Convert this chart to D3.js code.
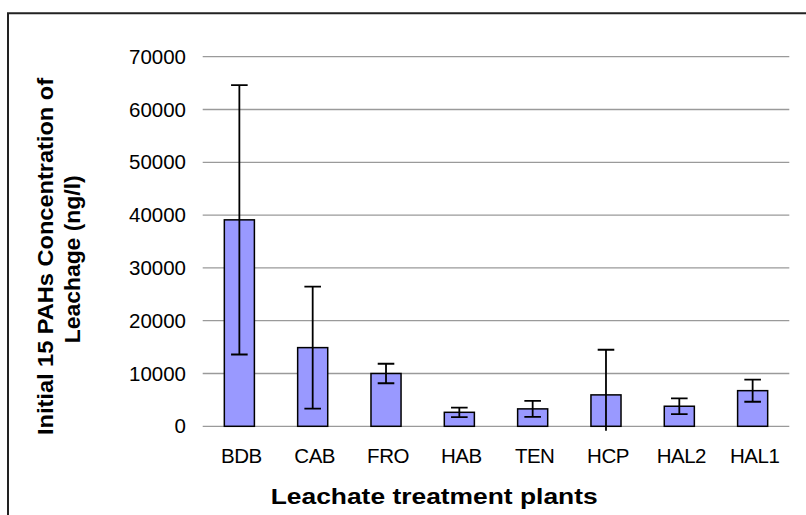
<!DOCTYPE html>
<html>
<head>
<meta charset="utf-8">
<script src="https://cdn.jsdelivr.net/npm/d3@7"></script>
<style>
  body { margin: 0; background: #fff; }
  text { font-family: Arial, "Liberation Sans", sans-serif; }
</style>
</head>
<body>
<div id="chart"></div>
<script>
// plants and their mean / error values (ng/l)
var plants = ["BDB", "CAB", "FRO", "HAB", "TEN", "HCP", "HAL2", "HAL1"];
var means = [39100, 14900, 10000, 2650, 3300, 5950, 3800, 6750];
var errors = [25500, 11550, 1850, 900, 1500, 8550, 1500, 2100];
var yTicks = [0, 10000, 20000, 30000, 40000, 50000, 60000, 70000];

var svgWidth = 806;
var svgHeight = 515;

var margin = {
    top: 56.7,
    right: 16.7,
    bottom: 88.7,
    left: 202.7
};

var width = svgWidth - margin.left - margin.right;
var height = svgHeight - margin.top - margin.bottom;

var data = plants.map((p, i) => ({ name: p, value: means[i], err: errors[i] }));

var svg = d3.select("#chart")
    .append("svg")
    .attr("width", svgWidth)
    .attr("height", svgHeight);

// outer chart border (only top and left are in view)
svg.append("path")
    .attr("d", "M8,520 L8,13.3 L810,13.3")
    .attr("fill", "none")
    .attr("stroke", "#222")
    .attr("stroke-width", 2);

var chartGroup = svg.append("g")
    .attr("transform", `translate(${margin.left}, ${margin.top})`);

var xBandScale = d3.scaleBand()
    .domain(plants)
    .range([0, width])
    .paddingInner(0.59)
    .paddingOuter(0.295);

var yLinearScale = d3.scaleLinear()
    .domain([0, 70000])
    .range([height, 0]);

// gridlines
chartGroup.append("g")
    .selectAll("line")
    .data(yTicks)
    .enter()
    .append("line")
    .attr("x1", 0)
    .attr("x2", width)
    .attr("y1", d => yLinearScale(d))
    .attr("y2", d => yLinearScale(d))
    .attr("stroke", "#9a9a9a")
    .attr("stroke-width", 1.3);

// y axis labels
var yAxis = d3.axisLeft(yLinearScale)
    .tickValues(yTicks)
    .tickFormat(d3.format("d"))
    .tickSize(0)
    .tickPadding(16.7);
chartGroup.append("g")
    .call(yAxis)
    .call(g => g.select(".domain").remove())
    .selectAll("text")
    .attr("font-size", "20.5px")
    .attr("font-family", "Arial, 'Liberation Sans', sans-serif")
    .attr("fill", "#000");

// x axis labels
var xAxis = d3.axisBottom(xBandScale).tickSize(0).tickPadding(22);
chartGroup.append("g")
    .attr("transform", `translate(2, ${height})`)
    .call(xAxis)
    .call(g => g.select(".domain").remove())
    .selectAll("text")
    .attr("font-size", "20.5px")
    .attr("font-family", "Arial, 'Liberation Sans', sans-serif")
    .attr("letter-spacing", "-0.5px")
    .attr("fill", "#000");

// bars
chartGroup.selectAll("rect.bar")
    .data(data)
    .enter()
    .append("rect")
    .classed("bar", true)
    .attr("x", d => xBandScale(d.name))
    .attr("y", d => yLinearScale(d.value))
    .attr("width", xBandScale.bandwidth())
    .attr("height", d => height - yLinearScale(d.value))
    .attr("fill", "#9999ff")
    .attr("stroke", "#000")
    .attr("stroke-width", 1.5);

// error bars, clipped just below the plot area like the original
chartGroup.append("clipPath")
    .attr("id", "plotClip")
    .append("rect")
    .attr("x", -5)
    .attr("y", -5)
    .attr("width", width + 10)
    .attr("height", height + 9.5);

var errGroup = chartGroup.append("g").attr("clip-path", "url(#plotClip)");
var capHalf = 8.3;

var errBars = errGroup.selectAll("g.err")
    .data(data)
    .enter()
    .append("g")
    .classed("err", true)
    .attr("stroke", "#000")
    .attr("stroke-width", 1.8);

errBars.append("line")
    .attr("x1", d => xBandScale(d.name) + xBandScale.bandwidth() / 2)
    .attr("x2", d => xBandScale(d.name) + xBandScale.bandwidth() / 2)
    .attr("y1", d => yLinearScale(d.value + d.err))
    .attr("y2", d => yLinearScale(d.value - d.err));

errBars.append("line")
    .attr("x1", d => xBandScale(d.name) + xBandScale.bandwidth() / 2 - capHalf)
    .attr("x2", d => xBandScale(d.name) + xBandScale.bandwidth() / 2 + capHalf)
    .attr("y1", d => yLinearScale(d.value + d.err))
    .attr("y2", d => yLinearScale(d.value + d.err));

errBars.append("line")
    .attr("x1", d => xBandScale(d.name) + xBandScale.bandwidth() / 2 - capHalf)
    .attr("x2", d => xBandScale(d.name) + xBandScale.bandwidth() / 2 + capHalf)
    .attr("y1", d => yLinearScale(d.value - d.err))
    .attr("y2", d => yLinearScale(d.value - d.err));

// axis titles
svg.append("text")
    .attr("x", 270.7)
    .attr("y", 504.3)
    .attr("font-size", "22px")
    .attr("font-weight", "bold")
    .attr("textLength", 327)
    .attr("lengthAdjust", "spacingAndGlyphs")
    .text("Leachate treatment plants");

svg.append("text")
    .attr("transform", "translate(52.7, 435) rotate(-90)")
    .attr("font-size", "21.5px")
    .attr("font-weight", "bold")
    .attr("textLength", 357)
    .attr("lengthAdjust", "spacingAndGlyphs")
    .text("Initial 15 PAHs Concentration of");

svg.append("text")
    .attr("transform", "translate(80, 343.3) rotate(-90)")
    .attr("font-size", "21.5px")
    .attr("font-weight", "bold")
    .attr("textLength", 168)
    .attr("lengthAdjust", "spacingAndGlyphs")
    .text("Leachage (ng/l)");
</script>
</body>
</html>
